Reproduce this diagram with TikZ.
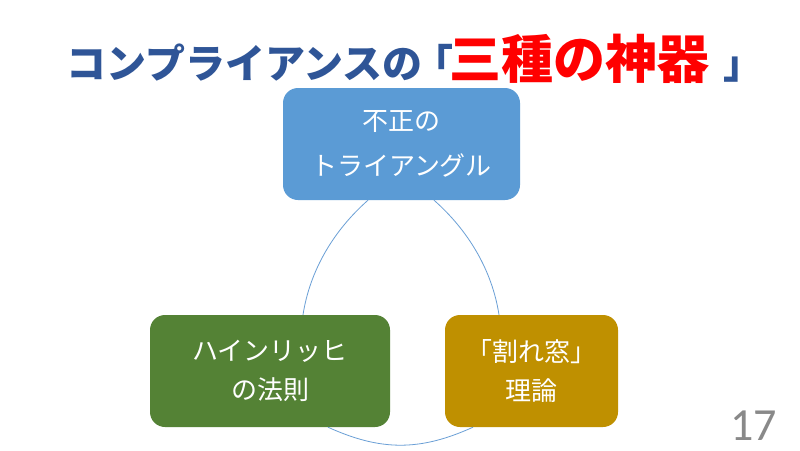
\documentclass[tikz,border=0pt]{standalone}
\usepackage{fontspec}
\setmainfont{Noto Sans CJK JP}
\newfontfamily\numfont{Carlito}
\definecolor{boxblue}{HTML}{5B9BD5}
\definecolor{boxgreen}{HTML}{548235}
\definecolor{boxgold}{HTML}{BF9000}
\definecolor{titleblue}{HTML}{2F5597}
\definecolor{titlered}{HTML}{FF0000}
\definecolor{arcblue}{HTML}{6A9FD6}
\definecolor{pagegrey}{HTML}{898989}
\tikzset{
  cbox/.style={rounded corners=15pt, inner sep=0pt, text=white, align=center, draw=none},
  topfont/.style={font=\fontsize{26pt}{45pt}\selectfont},
  lowfont/.style={font=\fontsize{26pt}{39pt}\selectfont},
  arcline/.style={draw=arcblue, line width=0.8pt},
  ttl/.style={inner sep=0pt, anchor=base west, font=\bfseries\fontsize{40pt}{40pt}\selectfont, text=titleblue}
}
\begin{document}
\begin{tikzpicture}[x=1pt,y=-1pt]
\useasboundingbox (0,0) rectangle (800,450);
\fill[white] (0,0) rectangle (800,450);
% title
\node[ttl] (t1) at (66,78) {コンプライアンスの};
\node[ttl] (t2) at (413,78) {「};
\node[ttl, text=titlered, font=\bfseries\fontsize{52pt}{52pt}\selectfont] (t3) at (449,78) {三種の神器};
\node[ttl] (t4) at (723,78) {」};
% boxes
\node[cbox, topfont, fill=boxblue, minimum width=237pt, minimum height=112pt] (top) at (401.5,144) {不正の\\トライアングル};
\node[cbox, lowfont, fill=boxgreen, minimum width=240pt, minimum height=112pt] (left) at (270,371) {ハインリッヒ\\の法則};
\node[cbox, lowfont, fill=boxgold, minimum width=173pt, minimum height=112pt] (right) at (531.5,371) {「割れ窓」\\理論};
% arcs
\draw[arcline] ([xshift=-33.5pt]top.south) .. controls +(-34,30) and +(7,-45) .. ([xshift=33pt]left.north);
\draw[arcline] ([xshift=32.5pt]top.south) .. controls +(34,30) and +(-7,-45) .. ([xshift=-32.5pt]right.north);
\draw[arcline] ([xshift=58pt]left.south) .. controls +(53,24) and +(-53,24) .. ([xshift=-58.5pt]right.south);
% page number
\node[inner sep=0pt, anchor=base, text=pagegrey, font=\numfont\fontsize{46pt}{46pt}\selectfont] (pg) at (753.5,440) {17};
\end{tikzpicture}
\end{document}
